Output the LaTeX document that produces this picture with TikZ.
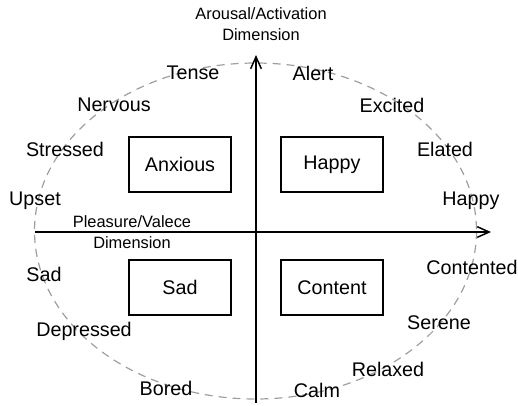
\documentclass[tikz,border=0pt]{standalone}
\usepackage{fontspec}
\setmainfont{Liberation Sans}
\usetikzlibrary{arrows.meta}
\begin{document}
\begin{tikzpicture}[x=0.75pt,y=-0.75pt,
  lbl/.style={inner sep=0pt,font=\fontsize{14.8}{17}\selectfont},
  axlbl/.style={inner sep=0pt,align=center,font=\fontsize{12.3}{15.5}\selectfont},
  quad/.style={draw,line width=1.1pt,minimum width=76.5pt,minimum height=41.5pt,inner sep=0pt,font=\fontsize{14.8}{17}\selectfont},
  axis/.style={line width=1.1pt,-{Straight Barb[length=9pt,width=8pt,line width=1.1pt]}},
  ring/.style={draw=gray!75,line width=0.9pt,dash pattern=on 6pt off 4.5pt}]
\useasboundingbox (0,0) rectangle (518,405);
% ellipse
\draw[ring] (255.5,231) ellipse [x radius=221, y radius=168];
% axes
\coordinate (vb) at (256,403);
\coordinate (vt) at (256,55);
\coordinate (hl) at (35,232);
\coordinate (hr) at (491,232);
\draw[axis] (vb) -- (vt);
\draw[axis] (hl) -- (hr);
% axis labels
\node[axlbl] (ya) at (261,24) {Arousal/Activation\\Dimension};
\node[axlbl] (xa) at (132,232) {Pleasure/Valece\\Dimension};
% quadrant boxes
\node[quad] (anx) at (180,164.5) {Anxious};
\node[quad] (hap) at (332,164.5) {Happy};
\node[quad] (sad) at (180,287.5) {Sad};
\node[quad] (con) at (332,287.5) {Content};
% emotion words
\node[lbl] (tense) at (193,73) {Tense};
\node[lbl] (alert) at (313,73) {Alert};
\node[lbl] (nerv) at (114,105) {Nervous};
\node[lbl] (exc) at (392,105) {Excited};
\node[lbl] (str) at (65,149) {Stressed};
\node[lbl] (ela) at (445,149) {Elated};
\node[lbl] (ups) at (35,201) {Upset};
\node[lbl] (hpy) at (471,201) {Happy};
\node[lbl] (cont) at (472,267) {Contented};
\node[lbl] (sadw) at (44,274) {Sad};
\node[lbl] (dep) at (84,331) {Depressed};
\node[lbl] (ser) at (439,323) {Serene};
\node[lbl] (rel) at (388,369) {Relaxed};
\node[lbl] (bor) at (166,388) {Bored};
\node[lbl] (calm) at (317,390) {Calm};
\end{tikzpicture}
\end{document}
